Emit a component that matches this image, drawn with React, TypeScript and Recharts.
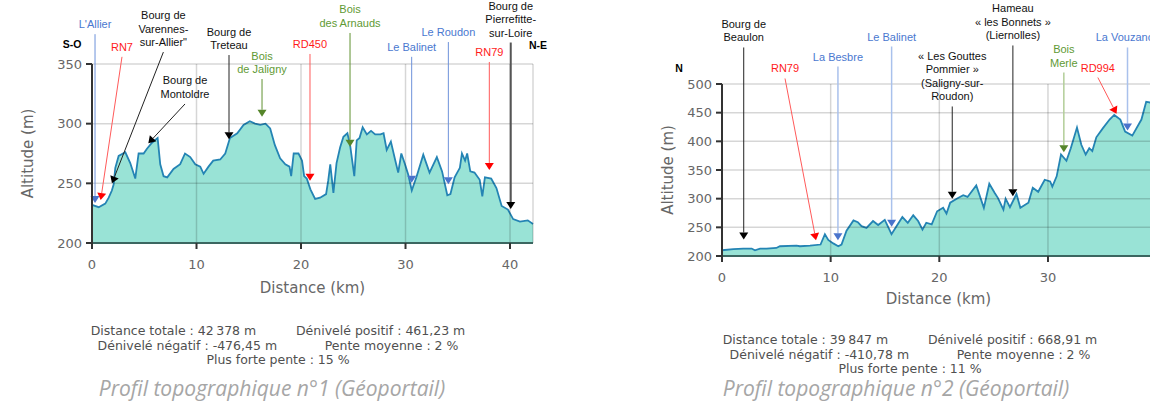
import { AreaChart, Area, XAxis, YAxis, ReferenceLine } from 'recharts'

// Profil n°1 : distance (km) / altitude (m)
const dist1 = [0, 0.64, 1.27, 1.6, 1.9, 2.07, 2.23, 2.55, 3.19, 3.66, 4.14, 4.46, 4.94, 5.26, 5.74, 6.28, 6.53, 6.85, 7.2, 7.8, 8.44, 8.9, 9.4, 9.88, 10.36, 10.68, 11.15, 11.6, 12.27, 12.75, 13.2, 13.9, 14.5, 15.1, 15.6, 16.1, 16.6, 17.05, 17.5, 18, 18.5, 18.9, 19.06, 19.3, 19.76, 20.1, 20.3, 20.55, 20.9, 21.35, 21.83, 22.4, 22.6, 22.8, 23.1, 23.4, 23.74, 24.06, 24.44, 24.7, 25.1, 25.33, 25.6, 25.9, 26.3, 26.7, 27.1, 27.6, 27.9, 28.2, 28.6, 29, 29.3, 29.6, 29.95, 30.27, 30.6, 31.07, 31.7, 32.3, 33, 33.5, 34, 34.3, 34.7, 35.2, 35.4, 35.7, 35.9, 36.2, 36.6, 37.1, 37.35, 37.6, 38.2, 38.7, 39.2, 39.8, 40.3, 40.95, 41.7, 42.2]
const alt1 = [232, 230, 233, 238, 244, 249, 263, 273, 276, 267, 254, 275, 275, 279, 284, 288, 266, 256, 255, 262, 266, 275, 272, 266, 264, 258, 264, 269, 270, 275, 288, 292, 299, 302, 300, 299, 300, 296, 282, 271, 266, 264, 256, 275, 275, 269, 256, 254, 245, 237, 238, 241, 252, 266, 242, 267, 280, 289, 292, 282, 256, 286, 288, 297, 291, 294, 291, 291, 292, 278, 285, 270, 259, 275, 266, 257, 244, 256, 274, 259, 272, 260, 240, 241, 255, 263, 275, 269, 275, 260, 259, 253, 239, 255, 254, 246, 231, 228, 220, 218, 219, 216]

// Profil n°2
const dist2 = [0, 1.04, 1.96, 2.73, 3.03, 3.5, 4.1, 5.0, 5.33, 6.86, 7.17, 8.1, 9.07, 9.47, 9.78, 10.24, 10.7, 11.0, 11.46, 12.1, 12.5, 12.84, 13.3, 13.9, 14.37, 14.98, 15.6, 16.06, 16.6, 17.1, 17.6, 18.05, 18.45, 18.8, 19.3, 19.8, 20.35, 20.66, 21.0, 21.6, 22.2, 22.6, 23.4, 24.1, 24.6, 25.1, 25.4, 25.9, 26.1, 26.5, 27.1, 27.46, 28.2, 28.6, 29.1, 29.7, 30.2, 30.4, 30.8, 31.2, 31.7, 32.1, 32.67, 33.07, 33.47, 33.8, 34.08, 34.45, 35.06, 35.67, 36.1, 36.66, 37.1, 37.76, 38.6, 39.04, 39.35, 39.85]
const alt2 = [210, 212, 213, 213, 210, 213, 213, 214, 217, 218, 217, 218, 220, 238, 228, 222, 217, 220, 244, 262, 259, 252, 249, 261, 254, 263, 238, 252, 268, 258, 271, 261, 246, 258, 255, 278, 284, 274, 293, 300, 306, 303, 323, 284, 326, 310, 301, 281, 300, 285, 308, 284, 293, 319, 312, 333, 330, 321, 339, 377, 366, 388, 424, 394, 377, 388, 383, 407, 423, 438, 446, 438, 417, 410, 438, 469, 468, 462]

const xTicks1 = [0, 10, 20, 30, 40]
const yTicks1 = [200, 250, 300, 350]
const xTicks2 = [0, 10, 20, 30]
const yTicks2 = [200, 250, 300, 350, 400, 450, 500]

type Kind = 'water' | 'road' | 'wood' | 'town' | 'town2'
type Annotation = { label: string; kind: Kind; x0: number; y0: number; x1: number; y1: number }

// repères : départ du trait (x0, y0) et pointe de la flèche (x1, y1), en km / m
const marks1: Annotation[] = [
  { label: "L'Allier", kind: 'water', x0: 0.29, y0: 375, x1: 0.29, y1: 233.5 },
  { label: 'RN7', kind: 'road', x0: 2.87, y0: 356, x1: 0.83, y1: 236 },
  { label: 'Bourg de\nVarennes-\nsur-Allier"', kind: 'town', x0: 6.83, y0: 360, x1: 1.91, y1: 250 },
  { label: 'Bourg de\nMontoldre', kind: 'town', x0: 8.9, y0: 316.5, x1: 5.39, y1: 283.5 },
  { label: 'Bourg de\nTreteau', kind: 'town', x0: 13.11, y0: 357.5, x1: 13.11, y1: 287 },
  { label: 'Bois\nde Jaligny', kind: 'wood', x0: 16.27, y0: 337.4, x1: 16.27, y1: 305.8 },
  { label: 'RD450', kind: 'road', x0: 20.86, y0: 358.4, x1: 20.86, y1: 252.2 },
  { label: 'Bois\ndes Arnauds', kind: 'wood', x0: 24.69, y0: 376, x1: 24.69, y1: 280.7 },
  { label: 'Le Balinet', kind: 'water', x0: 30.59, y0: 356, x1: 30.59, y1: 250.5 },
  { label: 'Le Roudon', kind: 'water', x0: 34.1, y0: 368.4, x1: 34.1, y1: 249.2 },
  { label: 'RN79', kind: 'road', x0: 38.02, y0: 351.7, x1: 38.02, y1: 261.2 },
  { label: 'Bourg de\nPierrefitte-\nsur-Loire', kind: 'town2', x0: 40.07, y0: 368, x1: 40.07, y1: 228.5 },
]

const marks2: Annotation[] = [
  { label: 'Bourg de\nBeaulon', kind: 'town', x0: 2.0, y0: 563.7, x1: 2.0, y1: 228.8 },
  { label: 'RN79', kind: 'road', x0: 5.8, y0: 509.6, x1: 8.65, y1: 227.6 },
  { label: 'La Besbre', kind: 'water', x0: 10.67, y0: 530.5, x1: 10.67, y1: 227.6 },
  { label: 'Le Balinet', kind: 'water', x0: 15.61, y0: 565.4, x1: 15.61, y1: 251 },
  { label: '« Les Gouttes\nPommier »\n(Saligny-sur-\nRoudon)', kind: 'town', x0: 21.19, y0: 460.8, x1: 21.19, y1: 299.8 },
  { label: 'Hameau\n« les Bonnets »\n(Liernolles)', kind: 'town', x0: 26.77, y0: 567.2, x1: 26.77, y1: 304.3 },
  { label: 'Bois\nMerle', kind: 'wood', x0: 31.46, y0: 520, x1: 31.46, y1: 381 },
  { label: 'RD994', kind: 'road', x0: 34.59, y0: 511.3, x1: 36.31, y1: 448 },
  { label: 'La Vouzance', kind: 'water', x0: 37.32, y0: 563.7, x1: 37.32, y1: 418.9 },
]

const stats1 = [
  'Distance totale : 42\u202F378 m          Dénivelé positif : 461,23 m',
  'Dénivelé négatif : -476,45 m            Pente moyenne : 2 %',
  'Plus forte pente : 15 %',
]
const stats2 = [
  'Distance totale : 39\u202F847 m          Dénivelé positif : 668,91 m',
  'Dénivelé négatif : -410,78 m            Pente moyenne : 2 %',
  'Plus forte pente : 11 %',
]

type Style = { line: string; mark: string; text: string; width: number }
type Palette = Record<Kind, Style>

const pal1: Palette = {
  water: { line: '#6d92da', mark: '#4a74cc', text: '#4a78d0', width: 1 },
  road: { line: '#ff5a5a', mark: '#ff0000', text: '#ff1a1a', width: 1 },
  wood: { line: '#5f9231', mark: '#55852a', text: '#5f9a35', width: 1 },
  town: { line: '#222', mark: '#000', text: '#111', width: 1 },
  town2: { line: '#555', mark: '#000', text: '#111', width: 2 },
}
const pal2: Palette = {
  ...pal1,
  water: { line: '#a9c1ec', mark: '#4a74cc', text: '#4a78d0', width: 1.5 },
  wood: { line: '#b2cd98', mark: '#55852a', text: '#5f9a35', width: 1.5 },
}

const toRows = (d: number[], a: number[]) => d.map((x, i) => ({ d: x, a: a[i] }))

const makeShape = (m: Annotation, pal: Palette) => (props: any) => {
  const { x1, y1, x2, y2 } = props
  const c = pal[m.kind]
  const ang = Math.atan2(y2 - y1, x2 - x1)
  const len = 7
  const half = 4.5
  const bx = x2 - len * Math.cos(ang)
  const by = y2 - len * Math.sin(ang)
  const nx = -Math.sin(ang) * half
  const ny = Math.cos(ang) * half
  const lines = m.label.split('\n')
  return (
    <g>
      <line x1={x1} y1={y1} x2={bx} y2={by} stroke={c.line} strokeWidth={c.width} />
      <path d={`M${x2},${y2}L${bx + nx},${by + ny}L${bx - nx},${by - ny}Z`} fill={c.mark} />
      <text textAnchor="middle" fill={c.text} fontSize={11} fontFamily="'Liberation Sans', Arial">
        {lines.map((l, i) => (
          <tspan key={i} x={x1} y={y1 - 6 - (lines.length - 1 - i) * 13.5}>
            {l}
          </tspan>
        ))}
      </text>
    </g>
  )
}

const tickStyle = { fill: '#666', fontSize: 13, fontFamily: "'DejaVu Sans'" }
const labelStyle = { fill: '#666', fontSize: 15, fontFamily: "'DejaVu Sans'", textAnchor: 'middle' as const }
const gridProps = { stroke: '#000', strokeOpacity: 0.16, strokeWidth: 1.5 }

type ChartProps = {
  rows: { d: number; a: number }[]
  xMax: number
  yDomain: [number, number]
  xTicks: number[]
  yTicks: number[]
  marks: Annotation[]
  pal: Palette
  width: number
  height: number
  margin: { top: number; right: number; bottom: number; left: number }
  xHeight: number
  yWidth: number
  border?: boolean
}

function Profile(p: ChartProps) {
  return (
    <AreaChart width={p.width} height={p.height} data={p.rows} margin={p.margin}>
      <XAxis
        dataKey="d"
        type="number"
        domain={[0, p.xMax]}
        ticks={p.xTicks}
        height={p.xHeight}
        tick={tickStyle}
        tickSize={6}
        tickMargin={11}
        axisLine={{ stroke: '#3b6660', strokeWidth: 2 }}
        tickLine={{ stroke: '#333', strokeWidth: 2 }}
        label={{ value: 'Distance (km)', position: 'insideBottom', offset: 0, style: labelStyle }}
      />
      <YAxis
        type="number"
        domain={p.yDomain}
        ticks={p.yTicks}
        width={p.yWidth}
        tick={tickStyle}
        tickSize={6}
        tickMargin={4}
        axisLine={{ stroke: '#333', strokeWidth: 2 }}
        tickLine={{ stroke: '#333', strokeWidth: 2 }}
        label={{ value: 'Altitude (m)', angle: -90, position: 'insideLeft', offset: 16, style: labelStyle }}
      />
      <Area
        dataKey="a"
        type="linear"
        stroke="#2484b4"
        strokeWidth={1.8}
        fill="#99e3d6"
        fillOpacity={1}
        isAnimationActive={false}
      />
      {/* grille par-dessus l'aire, comme sur Géoportail */}
      {p.xTicks.filter((t) => t > 0).map((t) => (
        <ReferenceLine key={'gx' + t} x={t} {...gridProps} />
      ))}
      {p.yTicks.filter((t) => t > p.yDomain[0]).map((t) => (
        <ReferenceLine key={'gy' + t} y={t} {...gridProps} />
      ))}
      {p.border && <ReferenceLine x={p.xMax} {...gridProps} />}
      {p.marks.map((m, i) => (
        <ReferenceLine
          key={i}
          segment={[
            { x: m.x0, y: m.y0 },
            { x: m.x1, y: m.y1 },
          ]}
          ifOverflow="visible"
          shape={makeShape(m, p.pal)}
        />
      ))}
    </AreaChart>
  )
}

const statStyle = {
  position: 'absolute' as const,
  width: 556,
  textAlign: 'center' as const,
  whiteSpace: 'pre' as const,
  fontFamily: "'DejaVu Sans'",
  fontSize: 12.5,
  lineHeight: '14.5px',
  color: '#505050',
}
const captionStyle = {
  position: 'absolute' as const,
  width: 500,
  textAlign: 'center' as const,
  fontFamily: "'Open Sans'",
  fontStyle: 'italic' as const,
  fontSize: 21,
  lineHeight: '22px',
  color: '#a6a6a6',
}
const dirStyle = {
  position: 'absolute' as const,
  width: 40,
  textAlign: 'center' as const,
  fontFamily: "'Liberation Sans', Arial",
  fontWeight: 700,
  fontSize: 10.5,
  lineHeight: '14px',
  color: '#000',
}

export default function App() {
  return (
    <div style={{ position: 'absolute', left: 0, top: 0, width: 1150, height: 403, overflow: 'hidden', background: '#fff' }}>
      <div style={{ position: 'absolute', left: 0, top: 0 }}>
        <Profile
          rows={toRows(dist1, alt1)}
          xMax={42.2}
          yDomain={[200, 350]}
          xTicks={xTicks1}
          yTicks={yTicks1}
          marks={marks1}
          pal={pal1}
          width={560}
          height={310}
          margin={{ top: 64, right: 27, bottom: 17, left: 12 }}
          xHeight={50}
          yWidth={80}
          border
        />
      </div>
      <div style={{ position: 'absolute', left: 640, top: 0 }}>
        <Profile
          rows={toRows(dist2, alt2)}
          xMax={39.85}
          yDomain={[200, 500]}
          xTicks={xTicks2}
          yTicks={yTicks2}
          marks={marks2}
          pal={pal2}
          width={530}
          height={310}
          margin={{ top: 84, right: 15, bottom: 6, left: 12 }}
          xHeight={48}
          yWidth={70}
        />
      </div>
      <div style={{ ...dirStyle, left: 52, top: 37 }}>S-O</div>
      <div style={{ ...dirStyle, left: 518, top: 38 }}>N-E</div>
      <div style={{ ...dirStyle, left: 659, top: 61 }}>N</div>
      <div style={{ ...statStyle, left: 0, top: 324 }}>{stats1.join('\n')}</div>
      <div style={{ ...statStyle, left: 632, top: 333 }}>{stats2.join('\n')}</div>
      <div style={{ ...captionStyle, left: 22, top: 377 }}>Profil topographique n°1 (Géoportail)</div>
      <div style={{ ...captionStyle, left: 646, top: 377 }}>Profil topographique n°2 (Géoportail)</div>
    </div>
  )
}
